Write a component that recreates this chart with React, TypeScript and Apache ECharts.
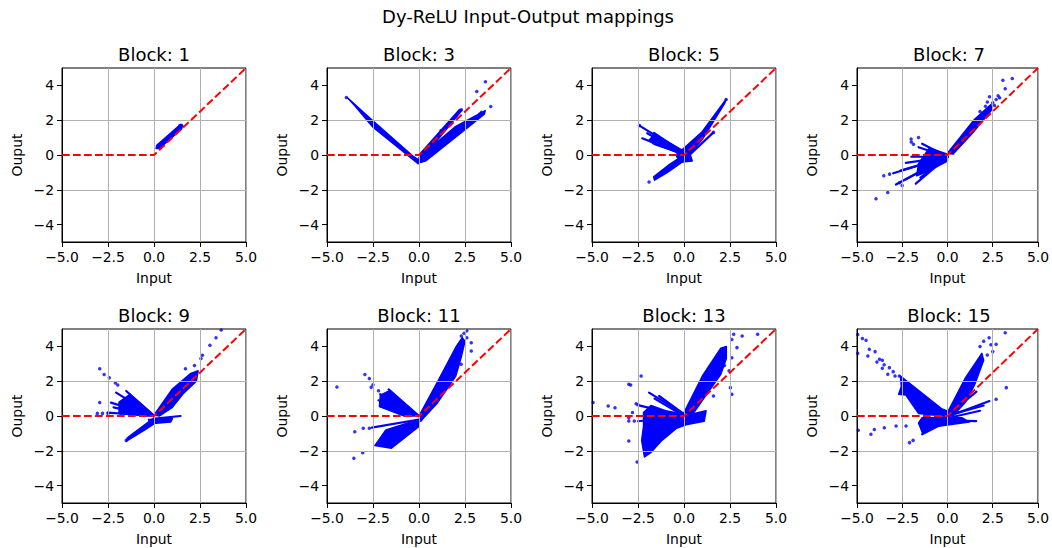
import React, { useEffect, useRef } from "react";
import * as echarts from "echarts";

const suptitle = "Dy-ReLU Input-Output mappings";
const blockTitles = ["Block: 1", "Block: 3", "Block: 5", "Block: 7", "Block: 9", "Block: 11", "Block: 13", "Block: 15"];
const xTicks = [-5, -2.5, 0, 2.5, 5];
const yTicks = [-4, -2, 0, 2, 4];
const reluLine = [[-5, 0], [0, 0], [5, 5]];

// Dense clusters of points (outlines, x/y pairs), thin streaks [x0,y0,x1,y1], and isolated points [x,y]
const b1Dense = [[0.12, 0.38, 0.15, 0.56, 1.45, 1.76, 1.55, 1.7, 1.5, 1.5, 0.3, 0.38]];
const b1Rays: number[][] = [];
const b1Points = [[0.2, 0.45], [1.5, 1.7], [1.4, 1.68]];

const b3Dense = [
  [-3.9, 3.3, -2.6, 2.05, -0.35, -0.05, 0.0, -0.3, -0.05, -0.5, -2.5, 1.6, -3.5, 2.85],
  [0.0, 0.0, 2.2, 2.62, 2.32, 2.55, 0.25, -0.1],
  [0.0, -0.15, 2.0, 1.65, 3.6, 2.55, 3.55, 2.35, 2.5, 1.45, 0.35, -0.35, 0.0, -0.45],
];
const b3Rays: number[][] = [];
const b3Points = [[3.14, 3.65], [3.61, 4.21], [3.9, 2.79], [3.4, 2.45], [3.3, 2.35], [-3.95, 3.3], [2.3, 2.6], [1.2, 1.4]];

const b5Dense = [
  [-1.6, 1.2, -0.05, 0.25, 0.1, 0.0, -1.6, 0.6, -1.9, 0.85],
  [-1.65, -1.25, -0.8, -0.55, 0.0, 0.0, 0.05, -0.3, -0.9, -1.0, -1.6, -1.45],
  [-0.1, 0.3, 1.0, 1.35, 2.29, 3.2, 2.2, 2.95, 1.0, 0.9, 0.3, 0.05],
  [-0.35, 0.25, 0.3, 0.15, 0.45, -0.35, -0.1, -0.4, -0.4, -0.1],
];
const b5Rays = [[-2.42, 1.69, 0, 0.1], [-2.27, 0.96, 0, 0], [-2.0, 1.25, 0, 0.05], [-1.63, 1.27, 0, 0.1], [0.2, -0.1, 1.6, 1.3]];
const b5Points = [[-1.9, -1.55], [1.6, 1.3], [2.29, 3.19], [-2.42, 1.69], [-1.0, -0.9]];

const b7Dense = [
  [0, 0.1, 1.5, 2.05, 2.4, 2.9, 2.45, 2.6, 1.5, 1.4, 0.3, 0.05],
  [0, 0.05, -1.0, 0.4, -1.6, -0.5, -1.7, -1.2, -1.0, -0.9, 0, -0.35],
];
const b7Rays = [
  [0, -0.1, -1.4, 0.65], [0, -0.1, -1.6, 0.45], [0, -0.1, -2.0, -0.1], [0, -0.1, -2.3, -0.45], [0, -0.1, -2.6, -0.9],
  [0, -0.1, -3.0, -1.05], [0, -0.1, -2.85, -1.7], [0, -0.1, -2.3, -1.4], [0, -0.1, -1.75, -1.65], [0, -0.1, -1.5, -1.3],
];
const b7Points = [
  [-3.95, -2.52], [-3.3, -2.15], [-3.52, -1.19], [-3.2, -1.1], [-2.01, 0.92], [-1.6, 1.0], [-1.88, 0.62], [-2.5, -1.75],
  [-2.65, -1.6], [-2.0, 0.75], [3.06, 4.29], [3.58, 4.4], [3.19, 3.81], [2.69, 3.19], [2.32, 3.35], [2.88, 3.29],
  [2.5, 3.0], [2.6, 2.85], [2.2, 3.05], [1.8, 2.5], [2.8, 3.4], [2.1, 2.8],
];

const b9Dense = [
  [0, 0.05, 1.0, 1.55, 2.0, 2.45, 2.4, 2.6, 2.3, 2.0, 1.6, 1.3, 1.0, 0.5, 0.3, 0.0],
  [-0.3, -0.2, 1.0, -0.15, 0.9, -0.35, -0.2, -0.45],
  [0, 0.05, -1.3, 1.25, -1.9, 0.8, -1.9, 0.2, -0.5, 0.0],
  [0, -0.1, -1.45, -1.25, -1.5, -1.45, -0.5, -0.8, 0, -0.45],
];
const b9Rays = [[0.05, -0.15, 1.44, 0.0], [0, 0, -2.06, 1.34], [0, 0, -1.51, 1.44], [0, 0, -2.34, 0.77], [0, 0, -2.52, 0.19], [0, 0, -2.2, 0.5]];
const b9Points = [
  [-2.95, 2.72], [-2.71, 2.39], [-2.43, 2.2], [-1.97, 1.78], [-2.1, 1.9], [-2.95, 0.77], [-3.08, 0.15], [-2.8, 0.15],
  [-2.5, 0.15], [-1.8, 0.15], [-1.0, 0.15], [3.37, 4.5], [3.65, 4.94], [3.04, 4.06], [1.71, 2.72], [2.63, 3.49],
  [2.55, 3.3], [2.2, 2.9], [-1.51, -1.4],
];

const b11Dense = [
  [0, 0, 1.0, 1.95, 2.0, 3.95, 2.35, 4.5, 2.5, 4.3, 2.3, 3.4, 2.0, 2.3, 1.0, 0.75, 0.3, -0.05, 0.1, -0.3],
  [0, 0, -1.6, 1.45, -2.1, 1.2, -2.15, 0.55, -0.8, 0.0],
  [0, -0.2, -1.8, -0.8, -2.4, -1.7, -1.5, -1.85, 0, -0.6],
];
const b11Rays = [[0, 0, -2.11, 1.25], [0, 0, -2.11, 0.57], [0, 0, -1.65, 1.53], [0, 0, -2.2, 0.9], [0, -0.2, -2.57, -0.67]];
const b11Points = [
  [-4.46, 1.67], [-2.94, 2.39], [-2.7, 2.15], [-2.5, 1.8], [-2.6, 1.65], [-2.2, 1.45], [-3.49, -0.9], [-3.54, -2.43],
  [-3.06, -2.11], [-3.03, -0.71], [-2.7, -0.7], [2.84, 4.21], [2.84, 3.74], [2.29, 2.97], [1.83, 2.3], [2.6, 4.5],
  [2.6, 4.9], [2.3, 4.6], [2.45, 4.75],
];

const b13Dense = [
  [0, 0.2, 1.0, 2.3, 2.0, 3.9, 2.3, 4.0, 2.3, 3.3, 2.0, 2.4, 1.0, 0.9, 0.4, 0.0],
  [0, 0, 1.2, 0.3, 1.1, -0.3, 0.1, -0.5],
  [0, 0.1, -1.0, 0.3, -1.8, 0.6, -2.2, 0.2, -2.2, -0.6, -2.3, -1.4, -2.15, -2.35, -1.8, -2.1, -1.2, -1.4, -0.4, -0.7, 0.1, -0.5],
];
const b13Rays = [[0, 0.1, -1.9, 1.34], [0, 0.1, -1.35, 1.15], [0, 0, -2.4, 0.6], [0, 0, -2.5, -0.3], [0, 0, -1.6, 1.0]];
const b13Points = [
  [-2.55, -2.64], [-2.33, 2.3], [-3.0, 1.82], [-2.9, 1.78], [-3.0, -1.44], [-4.94, 0.77], [-4.12, 0.57], [-3.75, 0.48],
  [-3.0, -0.29], [-3.0, -0.1], [-2.7, -0.29], [-2.6, 0.7], [-2.5, 0.65], [-2.8, 0.2], [2.7, 4.7], [3.16, 4.6],
  [4.0, 4.7], [2.88, 3.93], [2.6, 3.35], [2.52, 1.63], [2.6, 1.25], [1.6, 1.15], [2.6, 4.4], [2.45, 2.6], [2.2, 2.9],
];

const b15Dense = [
  [-2.6, 2.3, -0.3, 0.4, 0.2, 0.2, 0.1, -0.05, -1.6, 0.15, -2.3, 1.2, -2.7, 1.25, -2.55, 1.7],
  [0, 0.2, 1.0, 2.2, 1.9, 3.6, 2.0, 3.2, 1.5, 1.8, 1.0, 0.8, 0.3, 0.0],
  [-1.4, -0.1, 0.8, -0.1, 1.2, -0.35, -0.6, -0.6, -1.37, -1.0, -1.6, -0.4],
];
const b15Rays = [[0.1, 0, 2.32, 0.86], [0.1, -0.1, 1.8, 0.3], [0.1, 0.1, 1.6, 1.4], [0, -0.25, 1.59, -0.29], [0.1, 0.05, 2.0, 0.6], [0, -0.3, -1.4, -1.05]];
const b15Points = [
  [-4.96, 4.69], [-4.7, 4.45], [-4.5, 4.35], [-4.32, 3.83], [-4.0, 3.7], [-3.76, 3.26], [-3.6, 3.2], [-3.5, 2.95],
  [-3.21, 2.78], [-3.0, 2.55], [-2.9, 2.3], [-2.66, 2.3], [-4.4, 3.45], [-3.9, 3.1], [-3.3, 2.4], [-3.6, 2.75],
  [-4.96, 3.6], [3.19, 4.79], [3.25, 1.63], [2.69, 4.12], [2.69, 0.96], [2.4, 4.1], [2.5, 3.7], [2.2, 3.5], [2.0, 4.3],
  [1.8, 4.0], [-4.93, -0.82], [-4.23, -1.05], [-4.04, -0.77], [-3.49, -0.67], [-2.84, -0.57], [-2.29, -0.57],
  [-2.1, -1.53], [-1.9, -1.4], [2.3, 4.5], [1.5, 2.6],
];

const denseList = [b1Dense, b3Dense, b5Dense, b7Dense, b9Dense, b11Dense, b13Dense, b15Dense];
const raysList = [b1Rays, b3Rays, b5Rays, b7Rays, b9Rays, b11Rays, b13Rays, b15Rays];
const pointsList = [b1Points, b3Points, b5Points, b7Points, b9Points, b11Points, b13Points, b15Points];

const FONT = "DejaVu Sans";
const BLUE = "#0000ff";
const colLefts = [62, 327, 592, 857];
const rowTops = [68, 329];
const GW = 184;
const GH = 174;

function fmtX(v: number) {
  return (v < 0 ? "\u2212" : "") + Math.abs(v).toFixed(1);
}
function fmtY(v: number) {
  return (v < 0 ? "\u2212" : "") + String(Math.abs(v));
}

export default function App() {
  const ref = useRef<HTMLDivElement>(null);
  useEffect(() => {
    if (!ref.current) return;
    const chart = echarts.init(ref.current, undefined, { renderer: "svg" });
    const grids: any[] = [];
    const xAxes: any[] = [];
    const yAxes: any[] = [];
    const series: any[] = [];
    const graphics: any[] = [
      {
        type: "text",
        x: 528,
        y: 16,
        style: { text: suptitle, fontSize: 18, fontFamily: FONT, fill: "#000", textAlign: "center", textVerticalAlign: "middle" },
      },
    ];
    for (let i = 0; i < 8; i++) {
      const left = colLefts[i % 4];
      const top = rowTops[Math.floor(i / 4)];
      grids.push({ left, top, width: GW, height: GH, show: true, borderColor: "#000", borderWidth: 1, backgroundColor: "transparent" });
      graphics.push({
        type: "text",
        x: left + GW / 2,
        y: top - 14,
        style: { text: blockTitles[i], fontSize: 18, fontFamily: FONT, fill: "#000", textAlign: "center", textVerticalAlign: "middle" },
      });
      xAxes.push({
        gridIndex: i,
        type: "value",
        min: xTicks[0],
        max: xTicks[xTicks.length - 1],
        interval: 2.5,
        z: 3,
        name: "Input",
        nameLocation: "middle",
        nameGap: 29,
        nameTextStyle: { fontSize: 13.9, fontFamily: FONT, color: "#000" },
        axisLine: { show: true, onZero: false, lineStyle: { color: "#000", width: 1 } },
        axisTick: { show: true, inside: false, length: 5, lineStyle: { color: "#000", width: 1 } },
        axisLabel: { fontSize: 13.9, fontFamily: FONT, color: "#000", margin: 8, formatter: fmtX, showMinLabel: true, showMaxLabel: true, hideOverlap: false },
        splitLine: { show: true, lineStyle: { color: "#b0b0b0", width: 1 } },
      });
      yAxes.push({
        gridIndex: i,
        type: "value",
        min: -5,
        max: 5,
        interval: 1,
        z: 3,
        name: "Ouput",
        nameLocation: "middle",
        nameGap: 38,
        nameRotate: 90,
        nameTextStyle: { fontSize: 13.9, fontFamily: FONT, color: "#000" },
        axisLine: { show: true, onZero: false, lineStyle: { color: "#000", width: 1 } },
        axisTick: { show: true, inside: false, length: 5, customValues: yTicks, lineStyle: { color: "#000", width: 1 } },
        axisLabel: { fontSize: 13.9, fontFamily: FONT, color: "#000", margin: 8, customValues: yTicks, formatter: fmtY },
        splitLine: { show: true, lineStyle: { color: ["rgba(0,0,0,0)", "#b0b0b0"], width: 1 } },
      });
      const polys = denseList[i];
      series.push({
        type: "custom",
        xAxisIndex: i,
        yAxisIndex: i,
        z: 2,
        clip: true,
        silent: true,
        data: polys.map((p) => [p[0], p[1]]),
        renderItem: (params: any, api: any) => {
          const poly = polys[params.dataIndex];
          const pts: number[][] = [];
          for (let k = 0; k < poly.length; k += 2) pts.push(api.coord([poly[k], poly[k + 1]]));
          return { type: "polygon", shape: { points: pts }, style: { fill: BLUE, stroke: BLUE, lineWidth: 1.5, lineJoin: "round" } };
        },
      });
      const rays = raysList[i];
      if (rays.length) {
        series.push({
          type: "custom",
          xAxisIndex: i,
          yAxisIndex: i,
          z: 2,
          clip: true,
          silent: true,
          data: rays.map((r) => [r[0], r[1]]),
          renderItem: (params: any, api: any) => {
            const r = rays[params.dataIndex];
            const a = api.coord([r[0], r[1]]);
            const b = api.coord([r[2], r[3]]);
            return { type: "line", shape: { x1: a[0], y1: a[1], x2: b[0], y2: b[1] }, style: { stroke: BLUE, lineWidth: 2.2, lineCap: "round" } };
          },
        });
      }
      series.push({
        type: "scatter",
        xAxisIndex: i,
        yAxisIndex: i,
        z: 2,
        symbolSize: 3.5,
        silent: true,
        itemStyle: { color: BLUE },
        data: pointsList[i],
      });
      series.push({
        type: "line",
        xAxisIndex: i,
        yAxisIndex: i,
        z: 5,
        symbol: "none",
        silent: true,
        lineStyle: { color: "#ff0000", width: 2, type: [7.7, 3.3] },
        data: reluLine,
      });
    }
    chart.setOption({
      animation: false,
      backgroundColor: "#fff",
      textStyle: { fontFamily: FONT },
      grid: grids,
      xAxis: xAxes,
      yAxis: yAxes,
      series,
      graphic: graphics,
    });
    return () => chart.dispose();
  }, []);
  return <div ref={ref} style={{ position: "fixed", left: 0, top: 0, width: 1052, height: 548 }} />;
}
